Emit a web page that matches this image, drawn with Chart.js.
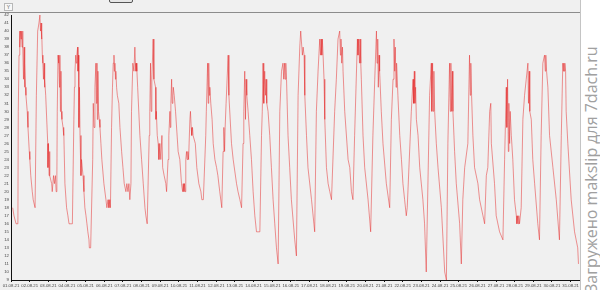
<!DOCTYPE html>
<html>
<head>
<meta charset="utf-8">
<script src="https://cdn.jsdelivr.net/npm/chart.js@4"></script>
<style>
  body { margin: 0; width: 600px; height: 290px; overflow: hidden; background: #fff; position: relative; }
  #panel { position: absolute; left: 0; top: 0; width: 580px; height: 290px; background: #f0f0f0; border-right: 1px solid #c4c4c4; }
  #topline { position: absolute; left: 0; top: 12px; width: 580px; height: 1px; background: #8c8c8c; }
  #ybtn { position: absolute; left: 4px; top: 3px; width: 7px; height: 6px; border: 1px solid #b8b8b8; background: #f8f8f8; font: 5px "Liberation Sans", sans-serif; line-height: 6px; text-align: center; color: #555; }
  #tab { position: absolute; left: 109px; top: -9px; width: 22px; height: 10px; border: 1px solid #555; border-radius: 2px; background: #e6e6e6; }
  #wrap { position: absolute; left: 0; top: 0; width: 580px; height: 290px; }
  #wm { position: absolute; left: 583px; top: 293px; transform: rotate(-90deg); transform-origin: 0 0; white-space: nowrap; font: 16px "Open Sans", sans-serif; line-height: 17px; color: #a0a0a0; }
</style>
</head>
<body>
<div id="panel"></div>
<div id="topline"></div>
<div id="ybtn">Y</div>
<div id="tab"></div>
<div id="wrap"><canvas id="myChart" width="580" height="290"></canvas></div>
<div id="wm">Загружено makslip для 7dach.ru</div>
<script>
// x in days since 01.08.21 00:00, one line per day
var times = [
  0.09,0.16,0.27,0.37,0.39,0.43,0.46,0.48,0.51,0.54,0.56,0.59,0.62,0.64,0.67,0.70,0.72,0.75,0.78,0.80,0.87,0.91,0.98,1.01,1.06,1.14,1.19,1.29,
  1.34,1.36,1.43,1.50,1.55,1.58,1.61,1.63,1.66,1.68,1.71,1.74,1.77,1.79,1.82,1.86,1.97,1.98,2.01,2.04,2.06,2.09,2.18,2.21,2.28,2.33,2.38,2.42,2.46,
  2.48,2.52,2.54,2.57,2.60,2.62,2.65,2.68,2.70,2.73,2.79,2.81,2.84,2.89,2.98,3.05,3.11,3.29,
  3.37,3.40,3.43,3.47,3.50,3.53,3.57,3.59,3.62,3.64,3.67,3.70,3.75,3.78,3.86,3.91,3.96,4.02,4.07,4.12,4.18,4.20,4.27,
  4.38,4.41,4.45,4.50,4.55,4.58,4.61,4.63,4.66,4.69,4.73,4.77,4.82,4.87,4.98,5.09,5.14,5.20,5.25,5.30,5.33,
  5.39,5.44,5.48,5.52,5.54,5.57,5.60,5.62,5.66,5.70,5.78,5.84,5.93,6.00,6.07,6.16,6.21,6.27,6.32,6.37,
  6.43,6.46,6.53,6.59,6.64,6.67,6.70,6.72,6.75,6.79,6.91,7.00,7.09,7.18,7.23,7.30,
  7.41,7.44,7.48,7.51,7.55,7.62,7.66,7.75,7.77,7.79,7.84,7.89,7.93,7.98,8.03,8.09,8.13,8.21,8.30,8.34,
  8.42,8.46,8.52,8.54,8.57,8.61,8.64,8.68,8.70,8.75,8.82,8.96,9.05,9.14,9.20,9.23,9.27,9.30,9.34,
  9.37,9.41,9.44,9.48,9.52,9.59,9.62,9.66,9.69,9.73,9.76,9.88,9.96,10.07,10.18,10.23,10.31,
  10.44,10.47,10.54,10.57,10.60,10.63,10.66,10.71,10.78,10.84,10.93,11.02,11.09,11.19,11.30,
  11.37,11.41,11.45,11.48,11.53,11.64,11.68,11.82,11.91,12.09,12.17,12.27,12.36,
  12.44,12.48,12.53,12.57,12.60,12.64,12.71,12.80,12.89,12.98,13.07,13.16,13.34,
  13.43,13.47,13.51,13.55,13.60,13.64,13.67,13.71,13.78,13.87,13.96,14.05,14.14,14.23,14.32,
  14.41,14.50,14.58,14.62,14.66,14.69,14.73,14.77,14.85,14.94,15.03,15.21,15.30,
  15.39,15.48,15.53,15.59,15.62,15.66,15.71,15.75,15.84,15.92,16.11,16.28,
  16.37,16.46,16.55,16.59,16.62,16.66,16.69,16.73,16.78,16.82,16.91,17.00,17.09,17.18,
  17.35,17.44,17.53,17.62,17.66,17.69,17.73,17.77,17.80,17.89,18.07,18.16,18.25,18.33,
  18.42,18.57,18.60,18.64,18.68,18.71,18.75,18.78,18.87,18.96,19.14,19.28,
  19.40,19.50,19.59,19.62,19.66,19.69,19.73,19.76,19.85,19.94,20.12,20.30,
  20.39,20.48,20.53,20.57,20.60,20.64,20.67,20.74,20.84,20.93,21.01,21.10,21.19,21.24,
  21.46,21.55,21.58,21.62,21.65,21.69,21.73,21.82,21.91,22.08,22.17,22.26,
  22.44,22.53,22.56,22.60,22.64,22.67,22.71,22.80,22.89,23.07,23.25,23.34,
  23.42,23.51,23.55,23.58,23.62,23.66,23.69,23.78,23.87,24.05,24.14,
  24.22,24.32,24.49,24.58,24.62,24.65,24.69,24.76,24.85,25.03,25.12,25.30,25.39,
  25.48,25.56,25.66,25.72,25.75,25.92,26.01,26.19,26.37,
  26.46,26.55,26.58,26.62,26.66,26.69,26.73,26.76,26.82,26.90,26.99,27.09,27.12,27.16,27.19,27.22,27.26,27.35,
  27.44,27.53,27.62,27.71,27.74,27.78,27.81,27.89,27.97,28.07,28.24,28.33,
  28.42,28.51,28.60,28.64,28.67,28.71,28.78,28.87,29.05,29.23,29.40,
  29.50,29.58,29.61,29.63,29.66,29.69,29.73,29.76,29.85,30.03,30.21,30.38,30.42
];
// temperature, same layout as times
var temps = [
  18,17,16,16,30,37,40,38,40,39,40,38,40,38,34,38,33,36,33,32,30,28,25,24,22,20,19,18,
  18,32,40,41,42,40,41,39,40,37,36,34,36,33,34,32,26,23,26,22,25,22,21,20,22,21,22,20,22,
  30,37,36,37,33,37,30,35,30,29,28,27,28,21,18,17,16,16,
  29,33,35,37,36,37,38,35,37,28,33,27,22,24,22,20,18,17,16,15,14,13,13,
  24,31,28,33,36,31,36,29,35,30,29,28,26,24,21,19,18,19,18,19,18,
  28,33,36,37,35,36,34,35,33,32,31,28,25,23,21,20,21,20,21,19,
  21,30,36,35,38,36,35,36,35,33,27,24,21,18,17,16,
  27,30,36,30,34,39,34,33,29,30,27,26,24,26,24,27,23,22,21,20,
  24,27,30,28,31,34,31,32,33,32,30,25,24,21,20,21,20,21,20,
  24,25,24,25,24,29,30,28,27,28,27,26,23,21,20,19,19,
  27,30,36,31,36,32,33,31,29,26,24,23,22,20,18,
  25,28,25,28,31,37,32,26,24,21,20,19,18,
  26,30,35,29,34,32,30,27,24,20,17,15,15,
  27,30,36,31,35,32,34,31,30,27,23,19,16,13,11,
  30,35,36,34,36,34,36,34,27,23,19,14,12,
  32,38,40,38,37,38,37,32,27,23,19,15,
  30,35,39,37,39,37,39,37,34,29,23,21,20,19,
  30,34,39,40,37,39,36,38,35,30,24,23,20,19,
  27,39,37,39,36,39,36,34,27,23,19,15,
  27,34,40,36,39,33,37,35,30,26,21,18,
  29,34,39,35,38,33,36,32,27,24,21,19,17,18,
  30,34,31,35,31,33,29,27,23,19,16,10,
  32,36,30,36,30,35,30,26,23,18,10,9,
  26,36,30,36,30,35,30,25,21,16,11,
  19,23,26,37,32,36,32,27,23,21,19,17,16,
  22,23,30,31,26,21,17,15,14,
  24,33,28,34,25,31,26,30,27,24,19,17,16,17,16,17,16,18,
  29,32,34,36,31,35,30,29,24,21,16,14,
  27,36,37,35,37,35,33,27,23,19,14,
  27,36,35,36,35,36,35,30,26,19,15,13,11
];
var dayLabels = [
  '01.08.21','02.08.21','03.08.21','04.08.21','05.08.21','06.08.21','07.08.21','08.08.21',
  '09.08.21','10.08.21','11.08.21','12.08.21','13.08.21','14.08.21','15.08.21','16.08.21',
  '17.08.21','18.08.21','19.08.21','20.08.21','21.08.21','22.08.21','23.08.21','24.08.21',
  '25.08.21','26.08.21','27.08.21','28.08.21','29.08.21','30.08.21','31.08.21'
];

var tickFont = { size: 4.3, family: 'Liberation Sans' };
var ctx = document.getElementById('myChart').getContext('2d');
var chart = new Chart(ctx, {
  type: 'line',
  data: {
    datasets: [{
      data: times.map((t, i) => ({ x: t, y: temps[i] })),
      borderColor: '#e42a2a',
      borderWidth: 0.5,
      pointRadius: 0,
      tension: 0,
      fill: false
    }]
  },
  options: {
    responsive: false,
    animation: false,
    layout: { padding: { top: 15, left: 0, right: 0, bottom: 0 } },
    plugins: { legend: { display: false }, tooltip: { enabled: false } },
    scales: {
      x: {
        type: 'linear', min: 0, max: 30.45,
        afterFit: s => { s.height = 10 },
        border: { color: '#111', width: 1 },
        grid: { drawOnChartArea: false, tickLength: 2, color: '#111' },
        ticks: {
          stepSize: 1, autoSkip: false, maxRotation: 0, includeBounds: false, padding: 1,
          color: '#444', font: tickFont,
          callback: v => dayLabels[v]
        }
      },
      y: {
        min: 9, max: 42,
        afterFit: s => { s.width = 11 },
        border: { color: '#111', width: 1 },
        grid: { drawOnChartArea: false, drawTicks: false },
        ticks: { stepSize: 1, autoSkip: false, padding: 2, color: '#444', font: tickFont }
      }
    }
  }
});
</script>
</body>
</html>
